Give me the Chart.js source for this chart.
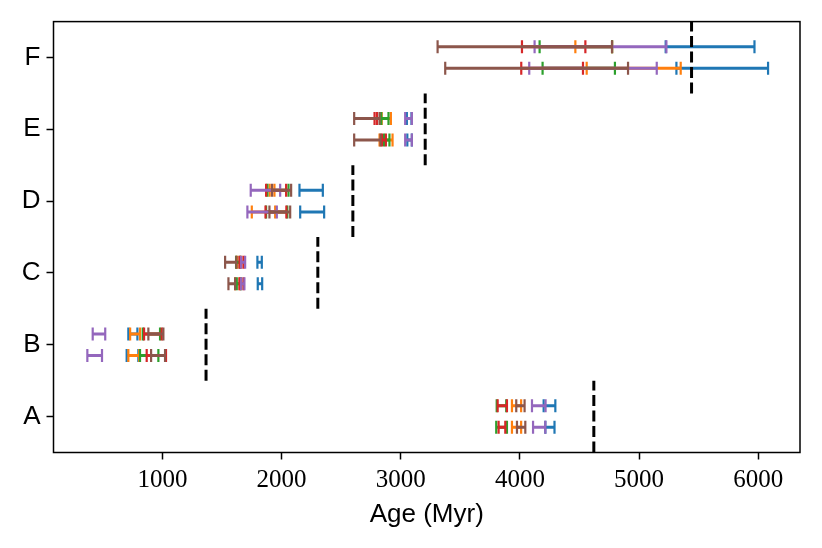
<!DOCTYPE html>
<html>
<head>
<meta charset="utf-8">
<title>Age intervals</title>
<script src="https://cdn.jsdelivr.net/npm/chart.js@4.4.1/dist/chart.umd.min.js"></script>
<style>
    html, body { margin: 0; padding: 0; background: #fff; }
    #wrap { width: 822px; height: 548px; position: relative; }
</style>
</head>
<body>
<div id="wrap"><canvas id="ageChart"></canvas></div>
<script>
const categories = ["A", "B", "C", "D", "E", "F"];
const xTicks = [1000, 2000, 3000, 4000, 5000, 6000];

// [low, high] in Myr for A..F, upper row and lower row
const blueUpper = [[4199, 4297], [714, 790], [1797, 1834], [2150, 2346], [3051, 3090], [5223, 5968]];
const blueLower = [[4213, 4290], [700, 798], [1800, 1837], [2156, 2357], [3055, 3093], [5313, 6082]];
const orangeUpper = [[3933, 4010], [729, 812], [1625, 1660], [1900, 1940], [2840, 2917], [4465, 4773]];
const orangeLower = [[3933, 4010], [714, 805], [1610, 1650], [1750, 1946], [2822, 2931], [4560, 5349]];
const greenUpper = [[3805, 3885], [835, 980], [1618, 1650], [1881, 2058], [2836, 2897], [4165, 4773]];
const greenLower = [[3801, 3891], [812, 966], [1624, 1660], [1870, 2048], [2860, 2905], [4190, 4797]];
const redUpper = [[3813, 3891], [846, 994], [1646, 1680], [1870, 2038], [2780, 2800], [4017, 4549]];
const redLower = [[3821, 3877], [868, 1030], [1646, 1680], [1865, 2040], [2842, 2875], [4011, 4529]];
const purpleUpper = [[4101, 4215], [415, 520], [1660, 1694], [1741, 1988], [3037, 3093], [4123, 5229]];
const purpleLower = [[4110, 4213], [370, 493], [1660, 1688], [1713, 1960], [3037, 3093], [4078, 5148]];
const brownUpper = [[3969, 4039], [882, 1008], [1526, 1620], [1920, 2080], [2609, 2822], [3309, 4773]];
const brownLower = [[3975, 4045], [905, 1022], [1554, 1610], [1898, 2072], [2609, 2830], [3373, 4907]];

// dashed reference age per category
const referenceAges = [4620, 1366, 2304, 2598, 3205, 5440];

const rowOffset = 0.15;

function intervalPoints(upper, lower) {
    const pts = [];
    categories.forEach((c, i) => {
        pts.push({ x: upper[i][0], y: i + rowOffset }, { x: upper[i][1], y: i + rowOffset }, { x: null, y: null });
        pts.push({ x: lower[i][0], y: i - rowOffset }, { x: lower[i][1], y: i - rowOffset }, { x: null, y: null });
    });
    return pts;
}

function barDataset(upper, lower, color) {
    return {
        data: intervalPoints(upper, lower),
        showLine: true,
        spanGaps: false,
        borderColor: color,
        borderWidth: 3,
        borderCapStyle: "butt",
        pointStyle: "line",
        pointRotation: 90,
        pointRadius: 6.5,
        pointBorderWidth: 2.2,
        pointBorderColor: color,
        pointBackgroundColor: color,
    };
}

const refPoints = [];
referenceAges.forEach((age, i) => {
    refPoints.push({ x: age, y: i - 0.5 }, { x: age, y: i + 0.5 }, { x: null, y: null });
});

// first dataset is drawn on top, so the order is reversed from the plotting order
const datasets = [
    {
        data: refPoints,
        showLine: true,
        spanGaps: false,
        borderColor: "#000",
        borderWidth: 3,
        borderDash: [11, 4.5],
        pointRadius: 0,
    },
    barDataset(brownUpper, brownLower, "#8c564b"),
    barDataset(purpleUpper, purpleLower, "#9467bd"),
    barDataset(redUpper, redLower, "#d62728"),
    barDataset(greenUpper, greenLower, "#2ca02c"),
    barDataset(orangeUpper, orangeLower, "#ff7f0e"),
    barDataset(blueUpper, blueLower, "#1f77b4"),
];

const framePlugin = {
    id: "frame",
    afterDraw(chart) {
        const { ctx, chartArea: a } = chart;
        ctx.save();
        ctx.strokeStyle = "#000";
        ctx.lineWidth = 1.5;
        ctx.strokeRect(a.left, a.top, a.right - a.left, a.bottom - a.top);
        ctx.restore();
    }
};

const tickGrid = {
    display: true,
    drawOnChartArea: false,
    drawTicks: true,
    tickLength: 7,
    tickWidth: 1.5,
    tickColor: "#000",
};

const ctx = document.getElementById("ageChart").getContext("2d");
new Chart(ctx, {
    type: "scatter",
    data: { datasets },
    plugins: [framePlugin],
    options: {
        responsive: true,
        maintainAspectRatio: false,
        animation: false,
        events: [],
        layout: { padding: { top: 20, right: 22, left: 0, bottom: 0 } },
        plugins: { legend: { display: false }, tooltip: { enabled: false } },
        scales: {
            x: {
                type: "linear",
                min: 86,
                max: 6350,
                afterBuildTicks: (axis) => { axis.ticks = xTicks.map(v => ({ value: v })); },
                afterFit: (axis) => { axis.height = 95.5; },
                grid: tickGrid,
                border: { display: false },
                ticks: {
                    color: "#000",
                    padding: 6,
                    maxRotation: 0,
                    font: { family: "'Liberation Serif', serif", size: 25 },
                    callback: (v) => String(v),
                },
                title: {
                    display: true,
                    text: "Age (Myr)",
                    color: "#000",
                    padding: { top: 0, bottom: 18 },
                    font: { family: "'Liberation Sans', sans-serif", size: 26 },
                },
            },
            y: {
                type: "linear",
                min: -0.5,
                max: 5.5,
                afterBuildTicks: (axis) => { axis.ticks = categories.map((c, i) => ({ value: i })); },
                afterFit: (axis) => { axis.width = 53.5; },
                grid: tickGrid,
                border: { display: false },
                ticks: {
                    color: "#000",
                    padding: 6,
                    font: { family: "'Liberation Sans', sans-serif", size: 26 },
                    callback: (v) => categories[Math.round(v)] ?? "",
                },
            },
        },
    },
});
</script>
</body>
</html>
